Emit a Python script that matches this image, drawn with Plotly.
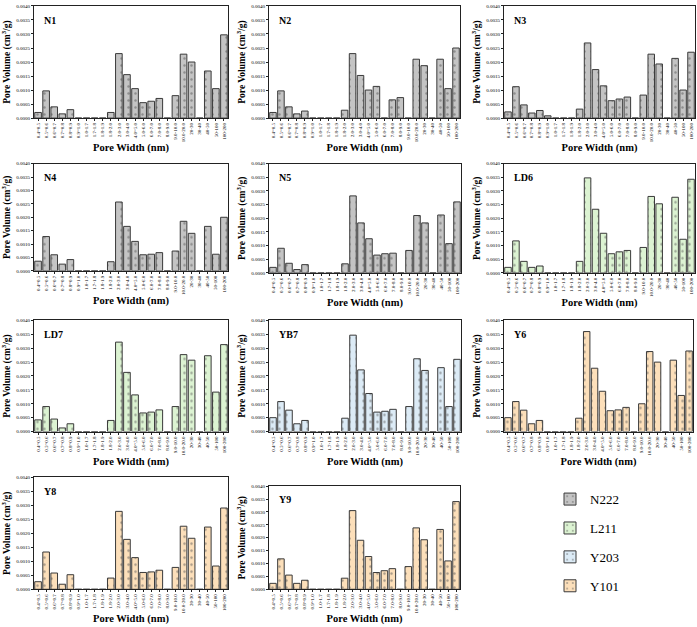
import plotly.graph_objects as go

categories = ["0.4~0.5", "0.5~0.6", "0.6~0.7", "0.7~0.8", "0.8~0.9", "0.9~1.0",
              "1.0-1.7", "1.7-1.8", "1.8-1.9", "1.8-2.0", "2.0-3.0", "3.0-4.0",
              "4.0~5.0", "5.0-6.0", "6.0-7.0", "7.0-8.0", "8.0-9.0", "9.0-10.0",
              "10.0-20.0", "20-30", "30-40", "40-50", "50-100", "100-200"]

N1 = [0.00020, 0.00097, 0.00040, 0.00015, 0.00030, 0, 0, 0, 0, 0.00020, 0.00230, 0.00155,
      0.00105, 0.00055, 0.00060, 0.00070, 0, 0.00080, 0.00228, 0.00200, 0, 0.00168, 0.00105, 0.00297]
N2 = [0.00020, 0.00097, 0.00040, 0.00015, 0.00025, 0, 0, 0, 0, 0.00028, 0.00230, 0.00152,
      0.00100, 0.00113, 0, 0.00065, 0.00073, 0, 0.00210, 0.00187, 0, 0.00210, 0.00105, 0.00250]
N3 = [0.00022, 0.00112, 0.00047, 0.00018, 0.00027, 0.00008, 0, 0, 0, 0.00032, 0.00268, 0.00173,
      0.00115, 0.00062, 0.00068, 0.00075, 0, 0.00082, 0.00228, 0.00193, 0, 0.00213, 0.00100, 0.00235]
N4 = [0.00036, 0.00128, 0.00060, 0.00025, 0.00042, 0, 0, 0, 0, 0.00034, 0.00257, 0.00166,
      0.00110, 0.00060, 0.00062, 0.00068, 0, 0.00074, 0.00185, 0.00140, 0, 0.00166, 0.00062, 0.00200]
N5 = [0.00020, 0.00090, 0.00035, 0.00012, 0.00030, 0, 0, 0, 0, 0.00033, 0.00282, 0.00183,
      0.00125, 0.00065, 0.00070, 0.00072, 0, 0.00082, 0.00210, 0.00183, 0, 0.00212, 0.00107, 0.00260]
LD6 = [0.00020, 0.00117, 0.00042, 0.00020, 0.00025, 0, 0, 0, 0, 0.00042, 0.00348, 0.00233,
       0.00145, 0.00070, 0.00077, 0.00082, 0, 0.00093, 0.00280, 0.00253, 0, 0.00277, 0.00123, 0.00343]
LD7 = [0.00042, 0.00090, 0.00045, 0.00013, 0.00028, 0, 0, 0, 0, 0.00040, 0.00322, 0.00213,
       0.00132, 0.00067, 0.00070, 0.00078, 0, 0.00090, 0.00277, 0.00257, 0, 0.00273, 0.00142, 0.00313]
YB7 = [0.00050, 0.00108, 0.00077, 0.00028, 0.00040, 0, 0, 0, 0, 0.00048, 0.00347, 0.00222,
       0.00137, 0.00070, 0.00073, 0.00080, 0, 0.00090, 0.00262, 0.00220, 0, 0.00230, 0.00090, 0.00260]
Y6 = [0.00050, 0.00108, 0.00077, 0.00028, 0.00040, 0, 0, 0, 0, 0.00048, 0.00360, 0.00228,
      0.00145, 0.00075, 0.00078, 0.00087, 0, 0.00100, 0.00288, 0.00250, 0, 0.00257, 0.00130, 0.00290]
Y8 = [0.00027, 0.00133, 0.00058, 0.00018, 0.00052, 0, 0, 0, 0, 0.00040, 0.00278, 0.00178,
      0.00113, 0.00060, 0.00062, 0.00068, 0, 0.00078, 0.00225, 0.00182, 0, 0.00222, 0.00083, 0.00290]
Y9 = [0.00023, 0.00118, 0.00055, 0.00023, 0.00035, 0, 0, 0, 0, 0.00043, 0.00305, 0.00190,
      0.00127, 0.00065, 0.00072, 0.00080, 0, 0.00088, 0.00238, 0.00192, 0, 0.00232, 0.00110, 0.00340]

samples = ["N1", "N2", "N3", "N4", "N5", "LD6", "LD7", "YB7", "Y6", "Y8", "Y9"]
sample_values = [N1, N2, N3, N4, N5, LD6, LD7, YB7, Y6, Y8, Y9]
sample_groups = ["N222", "N222", "N222", "N222", "N222", "L211", "L211", "Y203", "Y101", "Y101", "Y101"]

group_names = ["N222", "L211", "Y203", "Y101"]
group_colors = {"N222": "#c4c4c4", "L211": "#dcf3d2", "Y203": "#dcebf6", "Y101": "#fcdfba"}

y_ticks = [0.0000, 0.0005, 0.0010, 0.0015, 0.0020, 0.0025, 0.0030, 0.0035, 0.0040]
y_tick_text = ["%.4f" % v for v in y_ticks]

W, H = 697, 627
# panel boxes in pixels: left, right, top, bottom
boxes = [(34, 228, 4, 117), (269, 460, 4, 117), (504, 695, 4, 117),
         (34, 228, 163, 271), (269, 461, 163, 273), (504, 695, 163, 273),
         (34, 228, 321, 433), (269, 461, 321, 433), (504, 693, 321, 433),
         (34, 228, 479, 592), (269, 460, 488, 592)]

FONT = "Liberation Serif"
fig = go.Figure()
shown = set()
layout_axes = {}
annotations = []
for i, (name, vals, grp) in enumerate(zip(samples, sample_values, sample_groups)):
    k = "" if i == 0 else str(i + 1)
    l, r, t, b = boxes[i]
    show = grp not in shown
    shown.add(grp)
    fig.add_trace(go.Bar(
        x=categories, y=vals, xaxis="x" + k, yaxis="y" + k,
        name=grp, legendgroup=grp, showlegend=show,
        width=0.82,
        marker=dict(color=group_colors[grp],
                    line=dict(color="#3a3a3a", width=1),
                    pattern=dict(shape=".", fgcolor="#555555", bgcolor=group_colors[grp],
                                 size=7, solidity=0.1)),
    ))
    layout_axes["xaxis" + k] = dict(
        domain=[l / W, r / W], anchor="y" + k, type="category",
        categoryorder="array", categoryarray=categories,
        range=[-0.5, len(categories) - 0.5],
        tickangle=-90, tickfont=dict(size=5, family=FONT, color="#000"),
        showline=True, linecolor="#222", linewidth=1, mirror=True,
        ticks="outside", ticklen=2, tickcolor="#222", showgrid=False,
        title=dict(text="<b>Pore Width (nm)</b>", font=dict(size=10.5, family=FONT, color="#000"),
                   standoff=2),
    )
    layout_axes["yaxis" + k] = dict(
        domain=[1 - b / H, 1 - t / H], anchor="x" + k,
        range=[0, 0.0040], tickvals=y_ticks, ticktext=y_tick_text,
        tickfont=dict(size=5, family=FONT, color="#000"),
        showline=True, linecolor="#222", linewidth=1, mirror=True,
        ticks="outside", ticklen=2, tickcolor="#222", showgrid=False, zeroline=False,
        title=dict(text="<b>Pore Volume (cm<sup>3</sup>/g)</b>",
                   font=dict(size=9.5, family=FONT, color="#000"), standoff=3),
    )
    annotations.append(dict(
        text="<b>%s</b>" % name, xref="x%s domain" % k, yref="y%s domain" % k,
        x=0.04, y=0.94, xanchor="left", yanchor="top", showarrow=False,
        font=dict(size=10, family=FONT, color="#000"),
    ))

fig.update_layout(
    width=W, height=H, margin=dict(l=0, r=0, t=0, b=0),
    paper_bgcolor="white", plot_bgcolor="white",
    font=dict(family=FONT, color="#000"),
    bargap=0.15, annotations=annotations,
    legend=dict(x=550 / W, y=1 - 486 / H, xanchor="left", yanchor="top",
                font=dict(size=13, family=FONT, color="#000"),
                tracegroupgap=9, bgcolor="rgba(0,0,0,0)", itemwidth=30),
    **layout_axes,
)
fig.write_html("out.html", config={"displayModeBar": False},
               post_script="document.body.style.margin='0px';document.body.style.overflow='hidden';")
